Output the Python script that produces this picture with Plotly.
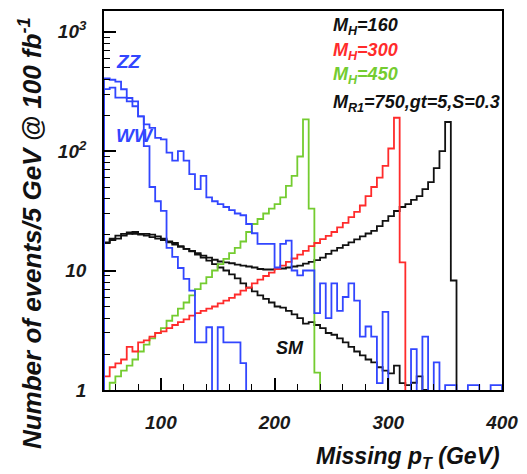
import plotly.graph_objects as go

# Missing-pT spectra, 5 GeV bins from 50 to 400 GeV (events / 5 GeV @ 100 fb^-1)
bin_lo = list(range(50, 400, 5))
bin_hi_end = 400

zz = [405, 395, 381, 329, 278, 260, 195, 167, 156, 129,
      125, 97, 83, 100, 83, 64, 48, 62, 41, 38,
      36, 34, 32, 30, 29, 24.5, 20.5, 16.7, 16.7, 16.7,
      10.6, 16.7, 17.8, 10, 9.1, 10, 10, 4.4, 7.8, 4.0,
      7.8, 4.6, 6.0, 7.8, 5.6, 2.8, 3.4, 2.8, 1.14, 4.5,
      0, 0, 0, 0, 2.2, 0, 2.8, 0, 1.7, 0,
      1.1, 1.1, 0, 0, 1.1, 1.1, 0, 0, 1.1, 1.1]

ww = [330, 340, 280, 280, 260, 237, 195, 110, 50, 38,
      31.6, 15.5, 13, 10.5, 8.5, 6.8, 2.5, 2.5, 3.35, 0,
      3.35, 2.5, 2.5, 2.5, 1.68, 0, 0, 0, 0, 0,
      0, 0, 0, 0, 0, 0, 0, 0, 0, 0,
      0, 0, 0, 0, 0, 0, 0, 0, 0, 0,
      0, 0, 0, 0, 0, 0, 0, 0, 0, 0,
      0, 0, 0, 0, 0, 0, 0, 0, 0, 0]

mh450 = [0.95, 1.15, 1.3, 1.45, 1.6, 1.8, 2.1, 2.4, 2.7, 3.0,
         3.3, 3.8, 4.2, 4.8, 5.4, 6.2, 7.0, 7.8, 8.8, 10.0,
         11.3, 12.5, 14.0, 15.5, 17.5, 21, 24.5, 27, 30, 33,
         36, 41, 51, 62, 90, 184, 33, 1.4, 0, 0,
         0, 0, 0, 0, 0, 0, 0, 0, 0, 0,
         0, 0, 0, 0, 0, 0, 0, 0, 0, 0,
         0, 0, 0, 0, 0, 0, 0, 0, 0, 0]

mh300 = [1.3, 1.55, 1.67, 1.8, 2.3, 2.1, 2.5, 2.6, 2.8, 3.0,
         3.1, 3.3, 3.5, 3.7, 3.9, 4.2, 4.4, 4.6, 4.8, 5.0,
         5.3, 5.6, 5.9, 6.3, 6.8, 7.2, 7.8, 8.4, 9.0, 9.6,
         10.3, 11.0, 11.8, 12.6, 13.6, 14.6, 16.0, 17.0, 18.3, 19.5,
         21, 23, 25, 28, 31, 35, 42, 50, 60, 75,
         105, 190, 11.7, 0, 0, 0, 0, 0, 0, 0,
         0, 0, 0, 0, 0, 0, 0, 0, 0, 0]

mh160 = [17.2, 18, 18.5, 19.6, 20.3, 21, 20.3, 20.3, 20, 19.3,
         18.5, 17.5, 17, 16, 15.2, 14.5, 13.6, 12.8, 12.1, 11.3,
         10.6, 10.0, 9.3, 8.6, 7.8, 7.2, 6.7, 6.2, 5.8, 5.4,
         5.0, 4.9, 4.6, 4.3, 4.0, 3.6, 3.7, 3.5, 3.3, 3.0,
         2.9, 2.7, 2.5, 2.3, 2.1, 1.95, 1.8, 1.7, 1.55, 1.45,
         1.38, 1.6, 1.14, 1.1, 1.15, 1.3, 1.0, 0, 0, 0,
         0, 0, 0, 0, 0, 0, 0, 0, 0, 0]

mr1 = [17, 18.5, 19.6, 20.3, 20.8, 20.3, 20, 19.6, 19.0, 18.5,
       18, 17.2, 16.5, 15.8, 15.2, 14.6, 14, 13.3, 12.8, 12.3,
       11.9, 11.7, 11.5, 11.2, 11.0, 10.8, 10.6, 10.3, 10.2, 10.2,
       10.3, 10.4, 10.6, 10.8, 11, 11.4, 11.8, 12.2, 12.8, 13.8,
       14.7, 15.5, 16.3, 17.2, 18.2, 19.3, 20.4, 21.5, 23.5, 26,
       28.5, 31.5, 34, 36, 39, 42, 48, 55, 72, 100,
       175, 8.25, 0, 0, 0, 0, 0, 0, 0, 0]

y_tickvals = [1, 10, 100, 1000]
y_ticktext = ["1", "10", "10<sup>2</sup>", "10<sup>3</sup>"]
x_tickvals = [100, 200, 300, 400]

BLUE = "#3246ff"
RED = "#ff2b2b"
GREEN = "#74cc30"
BLACK = "#111111"
FONT = "Liberation Sans"
FLOOR = 1e-2  # empty bins fall below the visible log range


def step_path(values):
    """Histogram outline: rise from the floor at the first edge, fall at the last."""
    ys = [v if v > 0 else FLOOR for v in values]
    xs = [bin_lo[0]] + bin_lo + [bin_hi_end, bin_hi_end]
    ys = [FLOOR] + ys + [ys[-1], FLOOR]
    return xs, ys


fig = go.Figure()
for vals, color in [(mh160, BLACK), (mr1, BLACK), (mh450, GREEN),
                    (mh300, RED), (ww, BLUE), (zz, BLUE)]:
    xs, ys = step_path(vals)
    fig.add_trace(go.Scatter(x=xs, y=ys, mode="lines", line_shape="hv",
                             line=dict(color=color, width=1.8),
                             showlegend=False, hoverinfo="skip"))

tick_font = dict(family=FONT, size=19, color="#1a1a1a", weight="bold", style="italic")

y_minor = [m * 10 ** d for d in range(0, 4) for m in range(2, 10) if m * 10 ** d < 1500]
fig.update_yaxes(type="log", range=[0, 3.172],
                 tickvals=y_tickvals, ticktext=y_ticktext,
                 ticks="inside", ticklen=12, tickwidth=1.5, tickcolor="black",
                 minor=dict(tickvals=y_minor, ticks="inside", ticklen=6,
                            tickwidth=1.2, tickcolor="black"),
                 showline=True, linecolor="black", linewidth=1.6, mirror=True,
                 showgrid=False, zeroline=False,
                 tickfont=tick_font, ticklabelstandoff=12)

fig.update_xaxes(range=[50, 400], tickvals=x_tickvals,
                 ticks="inside", ticklen=12, tickwidth=1.5, tickcolor="black",
                 minor=dict(tickvals=[60, 80, 120, 140, 160, 180, 220, 240, 260, 280,
                                      320, 340, 360, 380],
                            ticks="inside", ticklen=6, tickwidth=1.2, tickcolor="black"),
                 showline=True, linecolor="black", linewidth=1.6, mirror=True,
                 showgrid=False, zeroline=False,
                 tickfont=tick_font, ticklabelstandoff=14)


def note(text, x, y, color, size=18, xanchor="left"):
    fig.add_annotation(text=text, x=x, y=y, xref="paper", yref="paper",
                       xanchor=xanchor, yanchor="middle", showarrow=False,
                       font=dict(family=FONT, size=size, color=color,
                                 weight="bold", style="italic"))


# plot area spans 104..508 px horizontally, 9..390 px vertically
def px(xp):
    return (xp - 104) / 404.0


def py(yp):
    return (390 - yp) / 381.0


note("M<sub>H</sub>=160", px(334), py(25), BLACK)
note("M<sub>H</sub>=300", px(334), py(50), RED)
note("M<sub>H</sub>=450", px(334), py(74), GREEN)
note("M<sub>R1</sub>=750,gt=5,S=0.3", px(334), py(102), BLACK)
note("ZZ", px(114), py(60), BLUE, size=19)
note("WW", px(114), py(134), BLUE, size=19)
note("SM", px(277), py(348), BLACK)

fig.add_annotation(text="Missing p<sub>T</sub> (GeV)", x=px(508), y=py(458),
                   xref="paper", yref="paper", xanchor="right", yanchor="middle",
                   showarrow=False,
                   font=dict(family=FONT, size=23, color=BLACK, weight="bold", style="italic"))
fig.add_annotation(text="Number of events/5 GeV @ 100 fb<sup>-1</sup>",
                   x=-(104 - 30) / 404.0, y=py(13), xref="paper", yref="paper",
                   xanchor="center", yanchor="top", textangle=-90, showarrow=False,
                   font=dict(family=FONT, size=26, color=BLACK, weight="bold", style="italic"))

fig.update_layout(width=527, height=474,
                  margin=dict(l=104, r=19, t=9, b=84),
                  paper_bgcolor="white", plot_bgcolor="white")

fig.write_html("out.html")
